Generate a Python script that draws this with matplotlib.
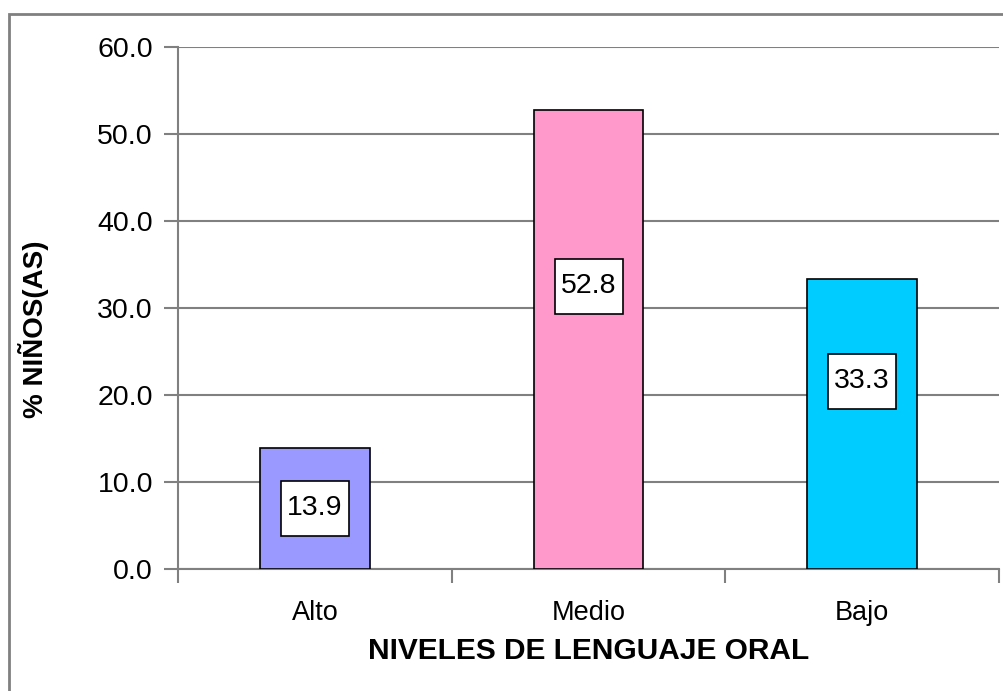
import matplotlib.pyplot as plt
from matplotlib.patches import Rectangle

categories = ['Alto', 'Medio', 'Bajo']
percent = [13.9, 52.8, 33.3]
bar_colors = ['#9999FF', '#FF99CC', '#00CCFF']
yticks = [0, 10, 20, 30, 40, 50, 60]
# vertical anchor of each value box, as in the original chart
label_y = [7.0, 32.5, 21.6]

plt.rcParams['font.family'] = ['Liberation Sans', 'DejaVu Sans']

fig = plt.figure(figsize=(10.04, 6.91), dpi=100)
fig.patches.append(Rectangle((9 / 1004, -0.1), 1.2, 1 - 14 / 691 + 0.1,
                             transform=fig.transFigure, fill=False,
                             edgecolor='#808080', linewidth=2))
ax = fig.add_axes([178 / 1004, 1 - 569 / 691, 821 / 1004, 522 / 691])

x = range(len(categories))
ax.bar(x, percent, width=0.4, color=bar_colors, edgecolor='black',
       linewidth=1.2, zorder=3)

# value boxes: ~68 x 55 px
box_w = 68 / 821 * 3
box_h = 55 / 522 * 60
for xi, v, ly in zip(x, percent, label_y):
    ax.add_patch(Rectangle((xi - box_w / 2, ly - box_h / 2), box_w, box_h,
                           facecolor='white', edgecolor='black',
                           linewidth=1.2, zorder=4))
    ax.text(xi, ly, f'{v:.1f}', ha='center', va='center', fontsize=20.5,
            zorder=5)

ax.set_xlim(-0.5, 2.5)
ax.set_ylim(0, 60)
ax.set_yticks(yticks)
ax.set_yticklabels([f'{t:.1f}' for t in yticks], fontsize=20.5)
ax.yaxis.grid(True, color='#808080', linewidth=1.5, zorder=0)
ax.set_xticks([-0.5, 0.5, 1.5, 2.5], minor=False)
ax.set_xticklabels([])
ax.set_xticks(list(x), minor=True)
ax.set_xticklabels(categories, minor=True, fontsize=19.5)
ax.tick_params(axis='x', which='major', length=10, color='#808080', width=1.5)
ax.tick_params(axis='x', which='minor', length=0, pad=22)
ax.tick_params(axis='y', length=10, color='#808080', width=1.5, pad=8)

for side in ['top', 'right']:
    ax.spines[side].set_visible(False)
for side in ['left', 'bottom']:
    ax.spines[side].set_color('#808080')
    ax.spines[side].set_linewidth(1.5)

ax.set_ylabel('% NIÑOS(AS)', fontsize=20, fontweight='bold')
ax.yaxis.set_label_coords(-0.157, 0.46)
ax.set_xlabel('NIVELES DE LENGUAJE ORAL', fontsize=21.5, fontweight='bold',
              labelpad=8)

fig.savefig('out.png', dpi=100)
